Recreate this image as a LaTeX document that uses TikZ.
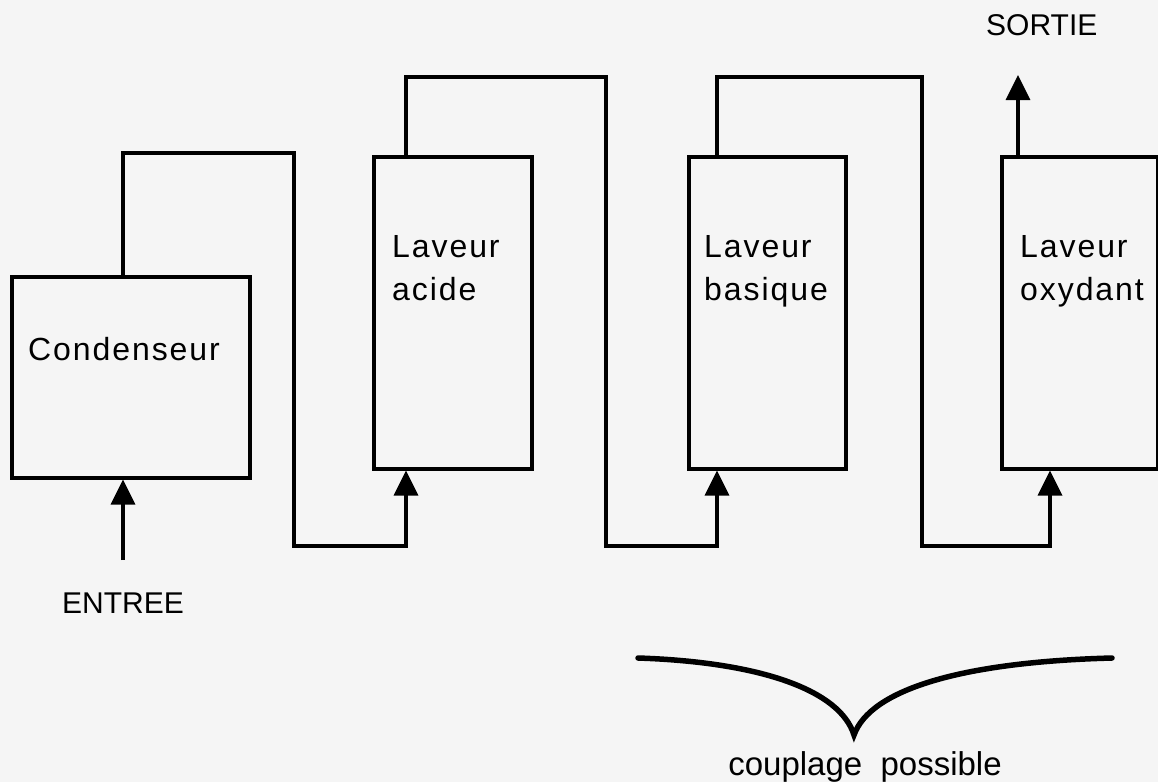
\documentclass[tikz,border=0pt]{standalone}
\usepackage{fontspec}
\setmainfont{Liberation Sans}
\newfontfamily\boxfont[LetterSpace=6]{Liberation Sans}
\usetikzlibrary{arrows.meta}
\definecolor{bgcol}{HTML}{F5F5F5}
\tikzset{
  unit box/.style={draw=black, line width=3.5pt, rectangle, inner sep=0pt, anchor=north west},
  boxtext/.style={anchor=base west, align=left, inner sep=0pt, font=\boxfont\fontsize{32}{43}\selectfont},
  io label/.style={anchor=base west, inner sep=0pt, font=\fontsize{30}{36}\selectfont},
  pipe/.style={draw=black, line width=3.5pt, line join=miter},
  flow/.style={pipe, -{Triangle[width=24pt,length=25pt]}},
  brace line/.style={draw=black, line width=5.5pt, line cap=round}
}
\begin{document}
\begin{tikzpicture}[x=1pt, y=-1pt]
  \fill[bgcol] (0,0) rectangle (1158,782);
  \useasboundingbox (0,0) rectangle (1158,782);

  % units
  \node[unit box, minimum width=238pt, minimum height=201pt] (cond) at (10,275) {};
  \node[unit box, minimum width=158pt, minimum height=312pt] (acide) at (372,155) {};
  \node[unit box, minimum width=157pt, minimum height=312pt] (basique) at (687,155) {};
  \node[unit box, minimum width=156pt, minimum height=312pt] (oxyd) at (1000,155) {};

  % texts (base anchor = baseline of the last line)
  \node[boxtext] (tcond) at (28,360) {Condenseur};
  \node[boxtext] (tacide) at (392,300) {Laveur\\acide};
  \node[boxtext] (tbas) at (704,300) {Laveur\\basique};
  \node[boxtext] (toxy) at (1020,300) {Laveur\\oxydant};

  \node[io label] (sortie) at (986,35) {SORTIE};
  \node[io label] (entree) at (62,613) {ENTREE};
  \node[anchor=base, inner sep=0pt, font=\fontsize{33}{40}\selectfont] (coupl) at (865,775) {couplage\ \ possible};

  % free ends
  \coordinate (inlet) at (123,560);
  \coordinate (outlet) at (1018,75);
  \coordinate (b1) at (294,153);
  \coordinate (b2) at (406,546);
  \coordinate (b3) at (606,77);
  \coordinate (b4) at (717,546);
  \coordinate (b5) at (922,77);
  \coordinate (b6) at (1050,546);

  % connectors
  \draw[flow] (inlet) -- (inlet |- cond.south);
  \draw[flow] (cond.north -| inlet) |- (b1) |- (b2) -- (b2 |- acide.south);
  \draw[flow] (acide.north -| b2) |- (b3) |- (b4) -- (b4 |- basique.south);
  \draw[flow] (basique.north -| b4) |- (b5) |- (b6) -- (b6 |- oxyd.south);
  \draw[flow] (oxyd.north -| outlet) -- (outlet);

  % brace
  \coordinate (bl) at (638,658);
  \coordinate (bc) at (854,735);
  \coordinate (br) at (1112,658);
  \draw[brace line] (bl) .. controls (760,662) and (840,690) .. (bc)
                          .. controls (870,690) and (960,662) .. (br);
\end{tikzpicture}
\end{document}
